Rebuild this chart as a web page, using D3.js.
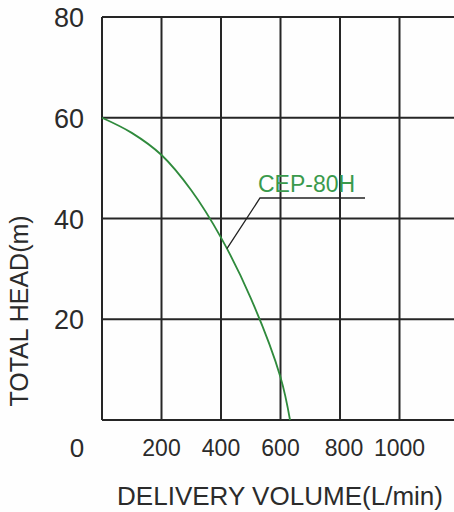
<!DOCTYPE html>
<html>
<head>
<meta charset="utf-8">
<script src="https://cdn.jsdelivr.net/npm/d3@7"></script>
<style>
  body { margin: 0; background: #fff; }
  text { font-family: "Liberation Sans", Arial, sans-serif; }
</style>
</head>
<body>
<div id="chart"></div>
<script>
var svgWidth = 454;
var svgHeight = 512;

// pump curve CEP-80H
var flow = [0, 100, 200, 300, 400, 500, 600, 632];
var head = [60, 57, 52.6, 45.6, 36.2, 24.2, 8.5, 0];

var xTicks = [200, 400, 600, 800, 1000];
var xGrid = [0, 200, 400, 600, 800, 1000];
var yTicks = [20, 40, 60, 80];
var yGrid = [0, 20, 40, 60, 80];

var svg = d3.select("#chart")
  .append("svg")
  .attr("width", svgWidth)
  .attr("height", svgHeight);

svg.append("rect")
  .attr("width", svgWidth)
  .attr("height", svgHeight)
  .attr("fill", "#fefefe");

var xScale = d3.scaleLinear().domain([0, 1000]).range([102, 399.5]);
var yScale = d3.scaleLinear().domain([0, 80]).range([420, 17]);

var gridColor = "#262626";

// horizontal grid
svg.selectAll(".hgrid")
  .data(yGrid)
  .enter()
  .append("line")
  .attr("x1", xScale(0))
  .attr("x2", svgWidth)
  .attr("y1", d => yScale(d))
  .attr("y2", d => yScale(d))
  .attr("stroke", gridColor)
  .attr("stroke-width", 2);

// vertical grid
svg.selectAll(".vgrid")
  .data(xGrid)
  .enter()
  .append("line")
  .attr("x1", d => xScale(d))
  .attr("x2", d => xScale(d))
  .attr("y1", yScale(80))
  .attr("y2", yScale(0))
  .attr("stroke", gridColor)
  .attr("stroke-width", 2);

// y tick labels
svg.selectAll(".ylab")
  .data(yTicks)
  .enter()
  .append("text")
  .attr("x", 84)
  .attr("y", d => yScale(d) + 10)
  .attr("text-anchor", "end")
  .attr("font-size", "27px")
  .attr("fill", "#2b2b2b")
  .text(d => d);

// the "0" sits on the x label row
svg.append("text")
  .attr("x", 77)
  .attr("y", 457)
  .attr("text-anchor", "middle")
  .attr("font-size", "26px")
  .attr("fill", "#2b2b2b")
  .text("0");

// x tick labels
svg.selectAll(".xlab")
  .data(xTicks)
  .enter()
  .append("text")
  .attr("x", d => xScale(d) + (d == 800 ? 4 : 0))
  .attr("y", 456)
  .attr("text-anchor", "middle")
  .attr("font-size", "23px")
  .attr("fill", "#2b2b2b")
  .text(d => d);

// axis titles
svg.append("text")
  .attr("x", 117)
  .attr("y", 505)
  .attr("font-size", "25px")
  .attr("fill", "#2b2b2b")
  .attr("textLength", 326)
  .attr("lengthAdjust", "spacingAndGlyphs")
  .text("DELIVERY VOLUME(L/min)");

svg.append("text")
  .attr("transform", "translate(28, 311) rotate(-90)")
  .attr("text-anchor", "middle")
  .attr("font-size", "25px")
  .attr("fill", "#2b2b2b")
  .text("TOTAL HEAD(m)");

// curve
var pts = flow.map((q, i) => [q, head[i]]);
var line = d3.line()
  .x(d => xScale(d[0]))
  .y(d => yScale(d[1]))
  .curve(d3.curveCatmullRom.alpha(0.5));

svg.append("path")
  .datum(pts)
  .attr("d", line)
  .attr("fill", "none")
  .attr("stroke", "#2f8a3c")
  .attr("stroke-width", 1.8);

// label with leader
var labelPt = [420, 34]; // on the curve where the leader meets it
svg.append("polyline")
  .attr("points", [
    [xScale(labelPt[0]), yScale(labelPt[1])],
    [260, 198],
    [365, 198]
  ].map(p => p.join(",")).join(" "))
  .attr("fill", "none")
  .attr("stroke", "#222")
  .attr("stroke-width", 1.3);

svg.append("text")
  .attr("x", 258)
  .attr("y", 192)
  .attr("font-size", "23px")
  .attr("fill", "#3a9a4c")
  .text("CEP-80H");
</script>
</body>
</html>
